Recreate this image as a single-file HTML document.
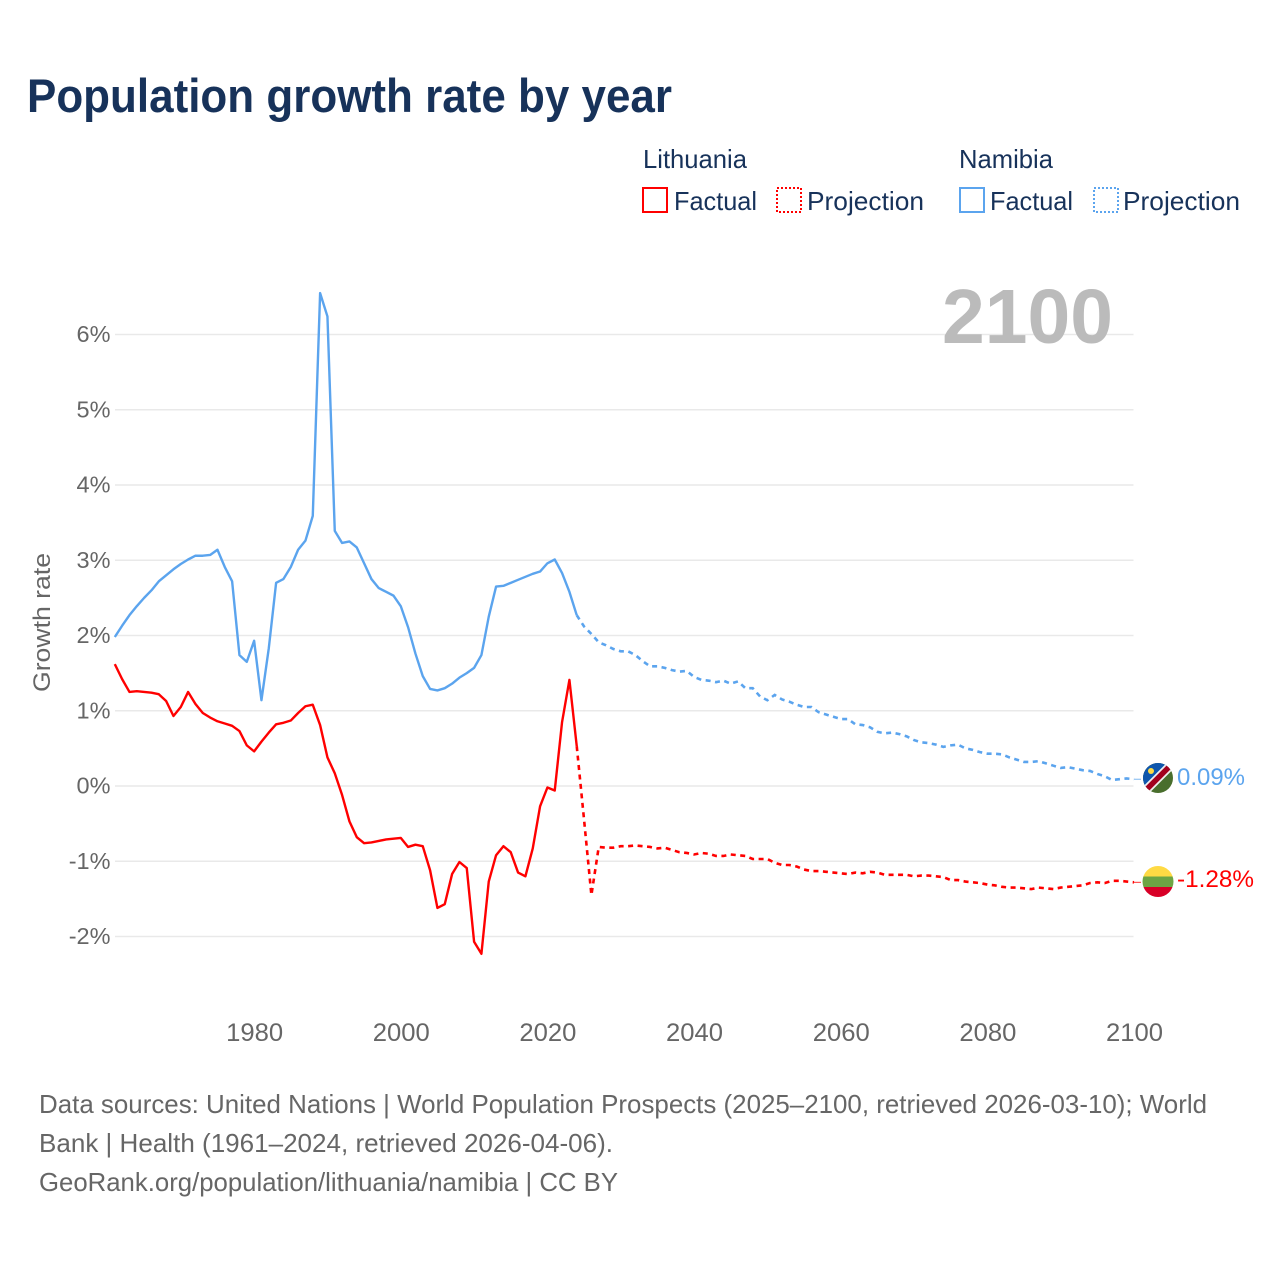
<!DOCTYPE html>
<html lang="en">
<head>
<meta charset="utf-8">
<title>Population growth rate by year</title>
<style>
html,body{margin:0;padding:0;background:#fff;width:1280px;height:1280px;overflow:hidden}
svg{display:block;font-family:"Liberation Sans",sans-serif}
</style>
</head>
<body>
<svg id="chart" width="1280" height="1280" viewBox="0 0 1280 1280" xmlns="http://www.w3.org/2000/svg">
  <rect width="1280" height="1280" fill="#fff"/>
  <text x="27" y="112" font-size="47" font-weight="700" fill="#17325a" textLength="645" lengthAdjust="spacingAndGlyphs">Population growth rate by year</text>

  <g font-size="26" fill="#17325a">
    <text x="643" y="168" textLength="104" lengthAdjust="spacingAndGlyphs">Lithuania</text>
    <text x="959" y="168" textLength="94" lengthAdjust="spacingAndGlyphs">Namibia</text>
    <rect x="643" y="188" width="24" height="24" fill="none" stroke="#ff0000" stroke-width="2"/>
    <text x="674" y="210" textLength="83" lengthAdjust="spacingAndGlyphs">Factual</text>
    <rect x="777" y="188" width="24" height="24" fill="none" stroke="#ff0000" stroke-width="2" stroke-dasharray="2 2" shape-rendering="crispEdges"/>
    <text x="807" y="210" textLength="117" lengthAdjust="spacingAndGlyphs">Projection</text>
    <rect x="960" y="188" width="24" height="24" fill="none" stroke="#5ba4ee" stroke-width="2"/>
    <text x="990" y="210" textLength="83" lengthAdjust="spacingAndGlyphs">Factual</text>
    <rect x="1094" y="188" width="24" height="24" fill="none" stroke="#5ba4ee" stroke-width="2" stroke-dasharray="2 2" shape-rendering="crispEdges"/>
    <text x="1123" y="210" textLength="117" lengthAdjust="spacingAndGlyphs">Projection</text>
  </g>

  <g id="grid"></g>
  <g id="yticks"></g>
  <g id="xticks"></g>

  <text x="942" y="343" font-size="77" font-weight="700" fill="#bbbbbb" textLength="171" lengthAdjust="spacingAndGlyphs">2100</text>
  <text transform="translate(50,692) rotate(-90)" font-size="24" fill="#666666" textLength="139" lengthAdjust="spacingAndGlyphs">Growth rate</text>

  <g id="series"></g>

  <g id="flag-namibia">
    <clipPath id="clip-na"><circle cx="1158" cy="778" r="15"/></clipPath>
    <g clip-path="url(#clip-na)">
      <rect x="1143" y="763" width="30" height="30" fill="#496e2d"/>
      <polygon points="1143,763 1173,763 1143,793" fill="#0f56ad"/>
      <line x1="1141" y1="795" x2="1175" y2="761" stroke="#f0f0f0" stroke-width="9"/>
      <line x1="1141" y1="795" x2="1175" y2="761" stroke="#a2001d" stroke-width="5.5"/>
      <circle cx="1151" cy="771" r="3" fill="#ffda44"/>
    </g>
  </g>
  <g id="flag-lithuania">
    <clipPath id="clip-lt"><circle cx="1158" cy="881.5" r="15.5"/></clipPath>
    <g clip-path="url(#clip-lt)">
      <rect x="1142" y="866" width="32" height="11" fill="#ffda44"/>
      <rect x="1142" y="876.5" width="32" height="10.5" fill="#6da544"/>
      <rect x="1142" y="887" width="32" height="11" fill="#d80027"/>
    </g>
  </g>
  <text id="end-label-namibia" x="1177" y="785" font-size="24" fill="#5ba4ee" textLength="68" lengthAdjust="spacingAndGlyphs">0.09%</text>
  <text id="end-label-lithuania" x="1177" y="887" font-size="24" fill="#ff0000" textLength="77" lengthAdjust="spacingAndGlyphs">-1.28%</text>

  <g font-size="26" fill="#666666">
    <text x="39" y="1113" textLength="1168" lengthAdjust="spacingAndGlyphs">Data sources: United Nations | World Population Prospects (2025–2100, retrieved 2026-03-10); World</text>
    <text x="39" y="1152" textLength="574" lengthAdjust="spacingAndGlyphs">Bank | Health (1961–2024, retrieved 2026-04-06).</text>
    <text x="39" y="1191" textLength="579" lengthAdjust="spacingAndGlyphs">GeoRank.org/population/lithuania/namibia | CC BY</text>
  </g>
</svg>
<script>
const firstYear = 1961;
const lastYear = 2100;
const lastFactualYear = 2024;
const yTickValues = [6, 5, 4, 3, 2, 1, 0, -1, -2];
const yTickLabels = ['6%', '5%', '4%', '3%', '2%', '1%', '0%', '-1%', '-2%'];
const xTickYears = [1980, 2000, 2020, 2040, 2060, 2080, 2100];
const lithuaniaValues = [
  1.62,1.42,1.25,1.26,1.25,1.24,1.22,1.13,0.93,1.05,
  1.25,1.09,0.97,0.91,0.86,0.83,0.80,0.73,0.54,0.46,
  0.59,0.71,0.82,0.84,0.87,0.97,1.06,1.08,0.81,0.38,
  0.17,-0.12,-0.47,-0.68,-0.76,-0.75,-0.73,-0.71,-0.70,-0.69,
  -0.81,-0.78,-0.80,-1.12,-1.62,-1.57,-1.17,-1.01,-1.09,-2.07,
  -2.23,-1.27,-0.92,-0.80,-0.88,-1.15,-1.20,-0.83,-0.27,-0.02,
  -0.06,0.85,1.41,0.53,-0.45,-1.45,-0.81,-0.82,-0.82,-0.80,
  -0.80,-0.79,-0.80,-0.81,-0.83,-0.82,-0.85,-0.88,-0.89,-0.91,
  -0.89,-0.90,-0.93,-0.93,-0.91,-0.92,-0.93,-0.97,-0.97,-0.97,
  -1.02,-1.05,-1.05,-1.07,-1.11,-1.13,-1.13,-1.14,-1.15,-1.16,
  -1.17,-1.15,-1.16,-1.14,-1.15,-1.18,-1.18,-1.18,-1.18,-1.20,
  -1.19,-1.19,-1.20,-1.21,-1.25,-1.25,-1.27,-1.28,-1.29,-1.31,
  -1.32,-1.34,-1.35,-1.35,-1.36,-1.37,-1.35,-1.36,-1.37,-1.35,
  -1.34,-1.33,-1.32,-1.29,-1.28,-1.29,-1.26,-1.26,-1.27,-1.28
];
const namibiaValues = [
  1.98,2.13,2.27,2.39,2.50,2.60,2.72,2.80,2.88,2.95,
  3.01,3.06,3.06,3.07,3.14,2.91,2.72,1.74,1.65,1.93,
  1.14,1.83,2.70,2.75,2.91,3.14,3.26,3.59,6.55,6.24,
  3.39,3.23,3.25,3.17,2.96,2.75,2.63,2.58,2.53,2.39,
  2.11,1.76,1.46,1.29,1.27,1.30,1.36,1.44,1.50,1.57,
  1.74,2.25,2.65,2.66,2.70,2.74,2.78,2.82,2.85,2.96,
  3.01,2.83,2.58,2.27,2.12,2.02,1.91,1.87,1.82,1.79,
  1.79,1.74,1.66,1.59,1.59,1.57,1.54,1.52,1.53,1.45,
  1.41,1.40,1.38,1.40,1.36,1.39,1.30,1.30,1.19,1.14,
  1.21,1.15,1.12,1.08,1.05,1.05,0.98,0.95,0.92,0.89,
  0.89,0.82,0.81,0.78,0.72,0.70,0.71,0.69,0.66,0.61,
  0.58,0.57,0.55,0.52,0.54,0.55,0.50,0.48,0.45,0.43,
  0.43,0.42,0.38,0.35,0.32,0.32,0.33,0.30,0.27,0.24,
  0.25,0.23,0.21,0.20,0.16,0.13,0.08,0.09,0.10,0.09
];

const SVG_NS = 'http://www.w3.org/2000/svg';
function xScale(year) { return 114.8 + (year - firstYear) * (1134 - 114.8) / (lastYear - firstYear); }
function yScale(value) { return 786 - value * 75.25; }
function make(tag, attrs, parent) {
  const el = document.createElementNS(SVG_NS, tag);
  for (const k in attrs) el.setAttribute(k, attrs[k]);
  parent.appendChild(el);
  return el;
}

const gridG = document.getElementById('grid');
const yG = document.getElementById('yticks');
yTickValues.forEach(function (v, i) {
  const gl = make('line', { x1: 115, x2: 1133.5, y1: yScale(v), y2: yScale(v), stroke: '#e9e9e9', 'stroke-width': 1.5 }, gridG);
  
  
  const t = make('text', { x: 110.5, y: yScale(v) + 7.5, 'text-anchor': 'end', 'font-size': 23.5, fill: '#666666' }, yG);
  
  
  t.textContent = yTickLabels[i];
});

const xG = document.getElementById('xticks');
xTickYears.forEach(function (yr) {
  const t = make('text', { x: xScale(yr) + 0.5, y: 1041, 'text-anchor': 'middle', 'font-size': 25, fill: '#666666', textLength: 57, lengthAdjust: 'spacingAndGlyphs' }, xG);
  
  
  t.textContent = yr;
});

function pathFor(values, fromYear, toYear) {
  const pts = [];
  for (let yr = fromYear; yr <= toYear; yr++) {
    pts.push(xScale(yr).toFixed(2) + ',' + yScale(values[yr - firstYear]).toFixed(2));
  }
  return 'M' + pts.join('L');
}

const seriesG = document.getElementById('series');
function drawSeries(values, color, key) {
  const solid = make('path', { d: pathFor(values, firstYear, lastFactualYear), fill: 'none', stroke: color, 'stroke-width': 2.4, 'stroke-linejoin': 'round' }, seriesG);
  
  
  const dash = make('path', { d: pathFor(values, lastFactualYear, lastYear), fill: 'none', stroke: color, 'stroke-width': 2.6, 'stroke-dasharray': '5 4.5' }, seriesG);
  
  
  const endY = yScale(values[lastYear - firstYear]);
  const lead = make('line', { x1: xScale(lastYear), x2: 1141, y1: endY, y2: endY, stroke: color, 'stroke-width': 1, opacity: 0.8 }, seriesG);
  
  
}
drawSeries(lithuaniaValues, '#ff0000', 'lithuania');
drawSeries(namibiaValues, '#5ba4ee', 'namibia');
</script>
</body>
</html>
